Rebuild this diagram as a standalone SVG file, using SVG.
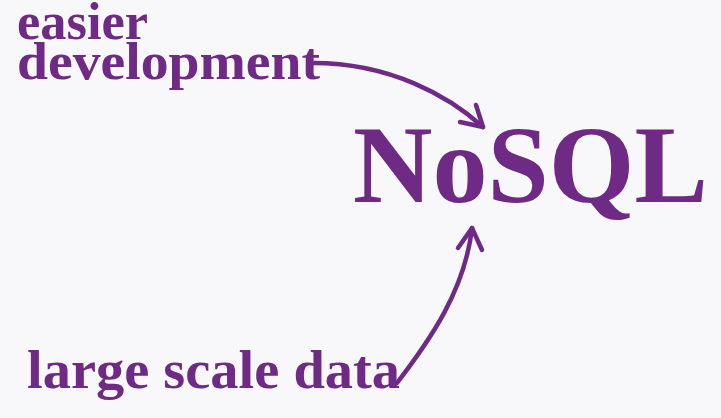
<svg xmlns="http://www.w3.org/2000/svg" width="721" height="418" viewBox="0 0 721 418">
<style>
.t{font-family:"Liberation Serif","Times New Roman",serif;font-weight:bold;fill:#6e2a85}
.c{fill:none;stroke:#6e2a85;stroke-width:4.5;stroke-linecap:round;stroke-linejoin:round}
</style>
<rect width="721" height="418" fill="#f8f7f9"/>
<g id="easier-development">
<text class="t" x="17" y="39" font-size="53" textLength="131" lengthAdjust="spacingAndGlyphs">easier</text>
<text class="t" x="17" y="79" font-size="53" textLength="303" lengthAdjust="spacingAndGlyphs">development</text>
</g>
<g id="nosql">
<text class="t" x="353" y="202" font-size="111" textLength="355" lengthAdjust="spacingAndGlyphs">NoSQL</text>
</g>
<g id="large-scale-data">
<text class="t" x="27" y="388" font-size="55" textLength="373" lengthAdjust="spacingAndGlyphs">large scale data</text>
</g>
<g id="connectors">
<path class="c" d="M310,63 C390,62 450,97 483,127"/>
<path class="c" d="M460,122 L483,127 L476,105"/>
<path class="c" d="M397,383 C430,340 465,290 472,228"/>
<path class="c" d="M458,248 L472,228 L482,250"/>
</g>
</svg>
